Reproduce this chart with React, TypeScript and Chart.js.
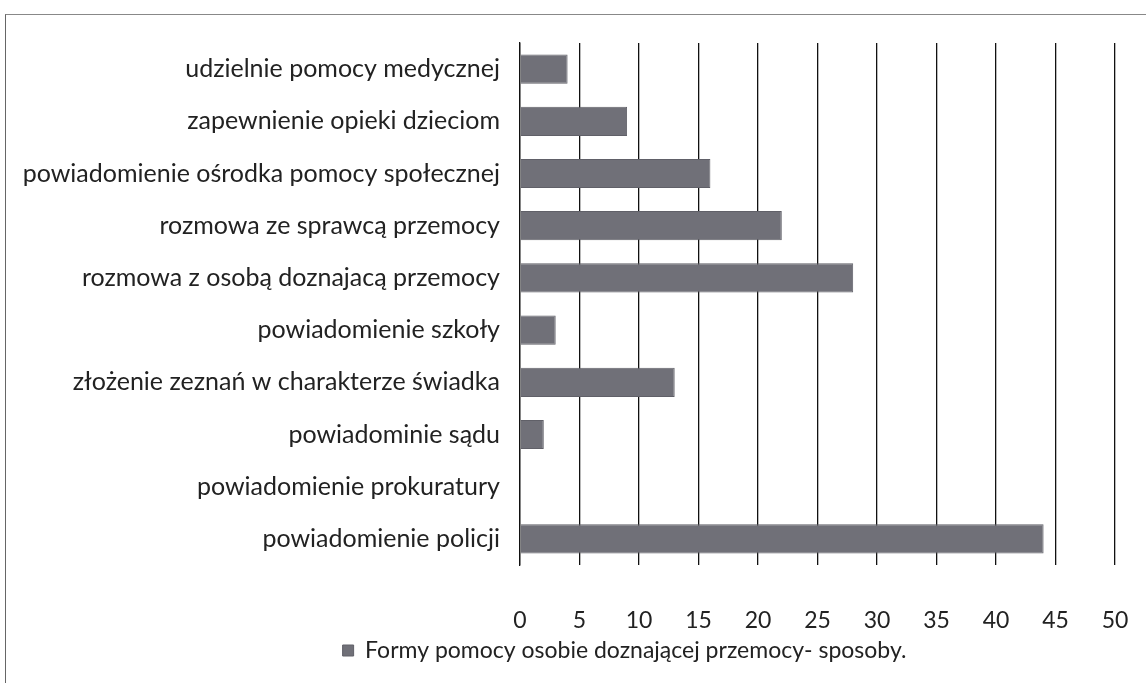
import React, { useEffect, useRef } from "react";
import { Chart, registerables } from "chart.js";

Chart.register(...registerables);

const categories = [
  "udzielnie pomocy medycznej",
  "zapewnienie opieki dzieciom",
  "powiadomienie ośrodka pomocy społecznej",
  "rozmowa ze sprawcą przemocy",
  "rozmowa z osobą doznajacą przemocy",
  "powiadomienie szkoły",
  "złożenie zeznań w charakterze świadka",
  "powiadominie sądu",
  "powiadomienie prokuratury",
  "powiadomienie policji",
];
const values = [4, 9, 16, 22, 28, 3, 13, 2, 0, 44];
const seriesName = "Formy pomocy osobie doznającej przemocy- sposoby.";
const xMin = 0;
const xMax = 50;
const xStep = 5;

const legendShift = {
  id: "legendShift",
  afterLayout(chart: any) {
    const lg = chart.legend;
    if (lg) {
      lg.left += 62;
      lg.right += 62;
    }
  },
};

export default function App() {
  const ref = useRef<HTMLCanvasElement>(null);
  useEffect(() => {
    if (!ref.current) return;
    const family = "Lato, 'Open Sans', sans-serif";
    const font = { family, size: 23 };
    const labelFont = { family, size: 25 };
    const chart = new Chart(ref.current, {
      type: "bar",
      data: {
        labels: categories,
        datasets: [
          {
            label: seriesName,
            data: values,
            backgroundColor: "#707078",
            borderColor: "#606068",
            borderWidth: 1,
            barPercentage: 0.56,
            categoryPercentage: 1,
          },
        ],
      },
      plugins: [legendShift],
      options: {
        indexAxis: "y",
        animation: false,
        responsive: false,
        layout: { padding: { left: 10, right: 31, top: 43, bottom: 11 } },
        scales: {
          x: {
            min: xMin,
            max: xMax,
            ticks: { stepSize: xStep, font, color: "#222", padding: 42 },
            grid: { color: "#111", lineWidth: 1.3, drawTicks: false },
            border: { display: false },
            afterFit: (s: any) => {
              s.height = 68;
              s.paddingRight = 14;
              s.paddingLeft = 8;
            },
          },
          y: {
            ticks: { font: labelFont, color: "#222", padding: 20 },
            grid: { display: false, drawTicks: false },
            border: { display: true, color: "#111", width: 1.3 },
            afterFit: (s: any) => {
              s.width = 510;
            },
          },
        },
        plugins: {
          legend: {
            position: "bottom",
            labels: {
              font,
              color: "#222",
              boxWidth: 11,
              boxHeight: 11,
              padding: 6,
            },
          },
          tooltip: { enabled: false },
        },
      },
    });
    return () => chart.destroy();
  }, []);
  return (
    <div style={{ position: "absolute", left: 0, top: 0, width: 1146, height: 683, background: "#fff" }}>
      <div
        style={{
          position: "absolute",
          left: 5,
          top: 14,
          width: 1150,
          height: 680,
          borderLeft: "1.5px solid #666",
          borderTop: "1.5px solid #888",
        }}
      />
      <canvas ref={ref} width={1146} height={683} style={{ position: "absolute", left: 0, top: 0 }} />
    </div>
  );
}
